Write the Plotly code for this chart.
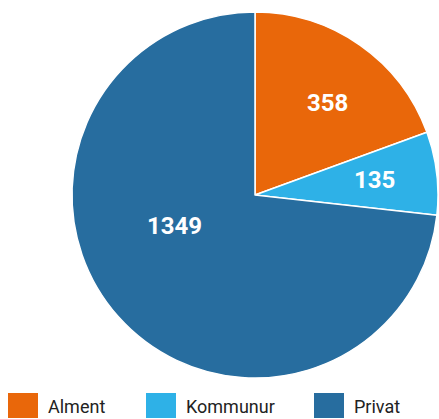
import math
import plotly.graph_objects as go

categories = ["Alment", "Kommunur", "Privat"]
values = [358, 135, 1349]
colors = ["#E9670A", "#2EB1E7", "#276D9F"]

W, H = 439, 419

# pie geometry (pixels)
cx, cy, R = 255, 195, 183
# label placement (angle clockwise from 12 o'clock in degrees, fraction of radius)
label_polar = [(38, 0.64), (83, 0.66), (249, 0.47)]

fig = go.Figure(go.Pie(
    labels=categories,
    values=values,
    sort=False,
    direction="clockwise",
    rotation=0,
    marker=dict(colors=colors, line=dict(color="white", width=1.5)),
    textinfo="none",
    domain=dict(x=[(cx - R) / W, (cx + R) / W], y=[(H - cy - R) / H, (H - cy + R) / H]),
    showlegend=False,
    hoverinfo="label+value",
))

annotations = []
for v, (ang, frac) in zip(values, label_polar):
    a = math.radians(ang)
    px = cx + frac * R * math.sin(a)
    py = cy - frac * R * math.cos(a)
    annotations.append(dict(xref="paper", yref="paper", x=px / W, y=1 - py / H,
                            xanchor="center", yanchor="middle", showarrow=False,
                            text=str(v),
                            font=dict(family="Roboto", size=24, color="white", weight="bold")))

# custom legend (large swatches)
legend_x = [8, 146, 314]
shapes = []
for cat, col, lx in zip(categories, colors, legend_x):
    shapes.append(dict(type="rect", xref="paper", yref="paper",
                       x0=lx / W, x1=(lx + 30) / W,
                       y0=(H - 418) / H, y1=(H - 393) / H,
                       fillcolor=col, line=dict(width=0)))
    annotations.append(dict(xref="paper", yref="paper", x=(lx + 38) / W, y=(H - 406) / H,
                            xanchor="left", yanchor="middle", showarrow=False,
                            text=cat, font=dict(family="Roboto", size=18, color="#222222")))

fig.update_layout(
    width=W, height=H,
    margin=dict(l=0, r=0, t=0, b=0),
    paper_bgcolor="white",
    plot_bgcolor="white",
    shapes=shapes,
    annotations=annotations,
)

fig.write_html("out.html", config={"displayModeBar": False},
               post_script="document.body.style.margin='0';")
